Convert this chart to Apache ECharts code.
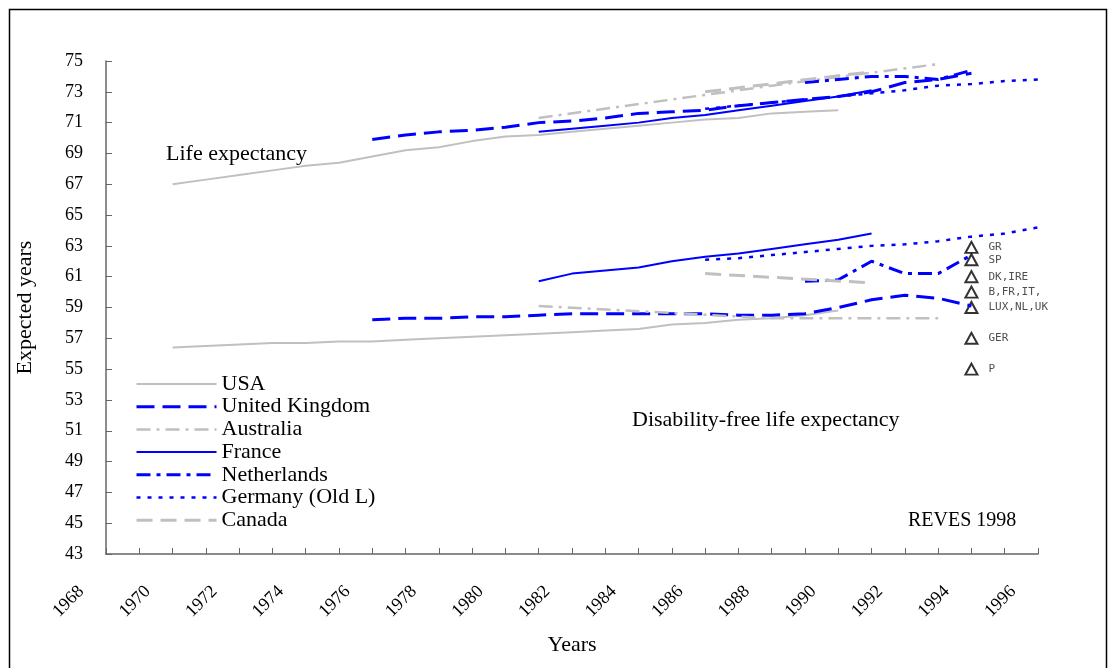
<!DOCTYPE html>
<html><head><meta charset="utf-8">
<script src="https://cdn.jsdelivr.net/npm/echarts@6/dist/echarts.min.js"></script>
<style>html,body{margin:0;padding:0;background:#fff}#c{width:1112px;height:668px}</style>
</head><body><div id="c"></div>
<script>
// ---- data ----
const usaLE = [[1970,67.0],[1971,67.3],[1972,67.6],[1973,67.9],[1974,68.2],[1975,68.4],[1976,68.8],[1977,69.2],[1978,69.4],[1979,69.8],[1980,70.1],[1981,70.2],[1982,70.4],[1983,70.6],[1984,70.8],[1985,71.0],[1986,71.2],[1987,71.3],[1988,71.6],[1989,71.7],[1990,71.8]];
const usaDFLE = [[1970,56.4],[1971,56.5],[1972,56.6],[1973,56.7],[1974,56.7],[1975,56.8],[1976,56.8],[1977,56.9],[1978,57.0],[1979,57.1],[1980,57.2],[1981,57.3],[1982,57.4],[1983,57.5],[1984,57.6],[1985,57.9],[1986,58.0],[1987,58.2],[1988,58.3],[1989,58.5],[1990,58.8]];
const ukLE = [[1976,69.9],[1977,70.2],[1978,70.4],[1979,70.5],[1980,70.7],[1981,71.0],[1982,71.1],[1983,71.3],[1984,71.6],[1985,71.7],[1986,71.8],[1987,72.1],[1988,72.3],[1989,72.5],[1990,72.7],[1991,73.0],[1992,73.6],[1993,73.8],[1994,74.2]];
const ukDFLE = [[1976,58.2],[1977,58.3],[1978,58.3],[1979,58.4],[1980,58.4],[1981,58.5],[1982,58.6],[1983,58.6],[1984,58.6],[1985,58.6],[1986,58.6],[1987,58.5],[1988,58.5],[1989,58.6],[1990,59.0],[1991,59.5],[1992,59.8],[1993,59.6],[1994,59.1]];
const ausLE = [[1981,71.3],[1988,73.4],[1993,74.8]];
const ausDFLE = [[1981,59.1],[1988,58.3],[1993,58.3]];
const fraLE = [[1981,70.4],[1982,70.6],[1983,70.8],[1984,71.0],[1985,71.3],[1986,71.5],[1987,71.8],[1988,72.1],[1989,72.4],[1990,72.7],[1991,73.1]];
const fraDFLE = [[1981,60.7],[1982,61.2],[1983,61.4],[1984,61.6],[1985,62.0],[1986,62.3],[1987,62.5],[1988,62.8],[1989,63.1],[1990,63.4],[1991,63.8]];
const nldLE = [[1989,73.6],[1990,73.8],[1991,74.0],[1992,74.0],[1993,73.8],[1994,74.4]];
const nldDFLE = [[1989,60.7],[1990,60.8],[1991,62.0],[1992,61.2],[1993,61.2],[1994,62.4]];
const gerLE = [[1986,71.9],[1987,72.1],[1988,72.3],[1989,72.5],[1990,72.7],[1991,72.9],[1992,73.1],[1993,73.4],[1994,73.5],[1995,73.7],[1996,73.8]];
const gerDFLE = [[1986,62.1],[1987,62.2],[1988,62.4],[1989,62.6],[1990,62.8],[1991,63.0],[1992,63.1],[1993,63.3],[1994,63.6],[1995,63.8],[1996,64.2]];
const canLE = [[1986,73.0],[1991,74.3]];
const canDFLE = [[1986,61.2],[1991,60.6]];
const euYear = 1994;
const euLabels = ['GR','SP','DK,IRE','B,FR,IT,','LUX,NL,UK','GER','P'];
const euValues = [62.9,62.1,61.0,60.0,59.0,57.0,55.0];
const legendNames = ['USA','United Kingdom','Australia','France','Netherlands','Germany (Old L)','Canada'];
const xMin = 1968, xMax = 1996, yMin = 43, yMax = 75;

// ---- styles ----
const GRAY = '#C0C0C0', BLUE = '#0000FF';
const styles = {
  'USA': {color: GRAY, width: 2, type: 'solid'},
  'United Kingdom': {color: BLUE, width: 3, type: [18, 8]},
  'Australia': {color: GRAY, width: 2.5, type: [14, 6, 3, 6]},
  'France': {color: BLUE, width: 2, type: 'solid'},
  'Netherlands': {color: BLUE, width: 3, type: [14, 6, 4, 6]},
  'Germany (Old L)': {color: BLUE, width: 2.5, type: [4, 7]},
  'Canada': {color: GRAY, width: 3, type: [16, 8]}
};
const pairs = [['USA',usaLE,usaDFLE],['United Kingdom',ukLE,ukDFLE],['Australia',ausLE,ausDFLE],['France',fraLE,fraDFLE],['Netherlands',nldLE,nldDFLE],['Germany (Old L)',gerLE,gerDFLE],['Canada',canLE,canDFLE]];
const series = [];
pairs.forEach(([name, le, dfle]) => {
  [le, dfle].forEach(d => series.push({
    name, type: 'line', data: d, symbol: 'none', showSymbol: false, silent: true,
    lineStyle: styles[name], itemStyle: {color: styles[name].color}, animation: false
  }));
});
series.push({
  name: 'EU', type: 'scatter', symbol: 'triangle', symbolSize: [12, 11], animation: false,
  data: euValues.map((v, i) => ({value: [euYear, v], label: {formatter: euLabels[i]}})),
  itemStyle: {color: '#fff', borderColor: '#000', borderWidth: 2},
  label: {show: true, position: 'right', distance: 10, fontFamily: 'DejaVu Sans Mono', fontSize: 11, color: '#222'}
});

const serif = 'Liberation Serif';
const AXC = '#666';
const chart = echarts.init(document.getElementById('c'), null, {renderer: 'canvas'});
chart.setOption({
  backgroundColor: '#fff',
  animation: false,
  grid: {left: 106, right: 74, top: 61, bottom: 114, containLabel: false},
  xAxis: {
    type: 'value', min: xMin, max: xMax, interval: 1,
    name: 'Years', nameLocation: 'middle', nameGap: 80,
    nameTextStyle: {fontFamily: serif, fontSize: 22, color: '#000'},
    axisLine: {lineStyle: {color: AXC, width: 1.5}},
    axisTick: {show: true, length: 6, inside: true, lineStyle: {color: AXC}},
    axisLabel: {rotate: 45, interval: 0, margin: 10, padding: [0, 35, 0, 0], fontFamily: serif, fontSize: 18, color: '#000',
      formatter: v => (v % 2 === 0 ? String(v) : '')},
    splitLine: {show: false}
  },
  yAxis: {
    type: 'value', min: yMin, max: yMax, interval: 2,
    name: 'Expected years', nameLocation: 'middle', nameGap: 70, nameRotate: 90,
    nameTextStyle: {fontFamily: serif, fontSize: 22, color: '#000'},
    axisLine: {show: true, lineStyle: {color: AXC, width: 1.5}},
    axisTick: {show: true, length: 6, inside: true, lineStyle: {color: AXC}},
    axisLabel: {margin: 23, fontFamily: serif, fontSize: 18, color: '#000'},
    splitLine: {show: false}
  },
  legend: {
    data: legendNames, orient: 'vertical', left: 135, top: 373, padding: 0, itemWidth: 80, itemHeight: 14, itemGap: 0.7,
    itemStyle: {opacity: 0},
    lineStyle: {width: 'inherit', type: 'inherit'},
    textStyle: {fontFamily: serif, fontSize: 22, color: '#000'}, selectedMode: false
  },
  graphic: [
    {type: 'rect', left: 7, top: 7, shape: {width: 1097, height: 660}, style: {fill: 'none', stroke: '#000', lineWidth: 1.5}, silent: true},
    {type: 'text', left: 166, top: 143, style: {text: 'Life expectancy', font: '22px "Liberation Serif"', fill: '#000'}},
    {type: 'text', left: 632, top: 409, style: {text: 'Disability-free life expectancy', font: '22px "Liberation Serif"', fill: '#000'}},
    {type: 'text', left: 908, top: 511, style: {text: 'REVES 1998', font: '20px "Liberation Serif"', fill: '#000'}}
  ],
  series
});
</script></body></html>
